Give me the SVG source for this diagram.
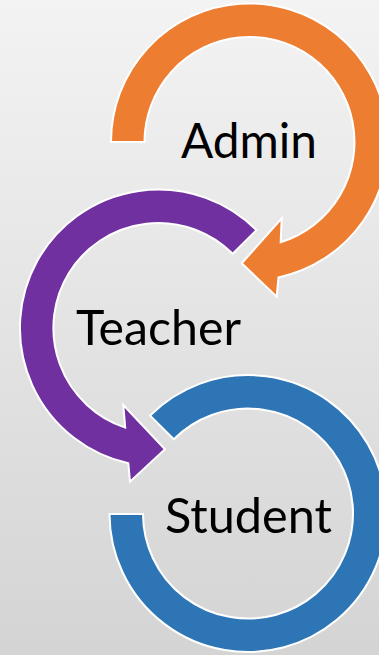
<svg xmlns="http://www.w3.org/2000/svg" width="379" height="655" viewBox="0 0 379 655">
  <defs>
    <linearGradient id="bg" x1="0" y1="0" x2="0" y2="1">
      <stop offset="0" stop-color="#f3f3f3"/>
      <stop offset="1" stop-color="#d4d4d4"/>
    </linearGradient>
    <style>
      .arrow { stroke: #ffffff; stroke-width: 2; stroke-linejoin: miter; }
      .orange { fill: #ed7d31; }
      .purple { fill: #7030a0; }
      .blue { fill: #2e75b6; }
      .label { font-family: "Lato", "Liberation Sans", sans-serif; font-size: 48px; fill: #000000; }
    </style>
  </defs>
  <rect x="0" y="0" width="379" height="655" fill="url(#bg)"/>
  <g id="node-student">
    <path class="arrow blue" d="M 150.1 415.6 A 138.5 138.5 0 1 1 109.5 514 L 143 514 A 105 105 0 1 0 173.8 439.3 Z"/>
    <text class="label" x="165" y="533" textLength="167" lengthAdjust="spacingAndGlyphs">Student</text>
  </g>
  <g id="node-teacher">
    <path class="arrow purple" d="M 256.4 230.1 A 138.5 138.5 0 1 0 128.3 463.2 L 130 481.7 L 165 449.3 L 123.3 405 L 125.2 427.6 A 105 105 0 1 1 232.7 253.8 Z"/>
    <text class="label" x="76" y="344.5" textLength="165" lengthAdjust="spacingAndGlyphs">Teacher</text>
  </g>
  <g id="node-admin">
    <path class="arrow orange" d="M 111 142 A 138.5 138.5 0 1 1 278.5 277.4 L 276.7 296.7 L 241.7 263.3 L 281.7 218.3 L 280.7 242.2 A 105 105 0 1 0 144.5 142 Z"/>
    <text class="label" x="181" y="157.5" textLength="136" lengthAdjust="spacingAndGlyphs">Admin</text>
  </g>
</svg>
